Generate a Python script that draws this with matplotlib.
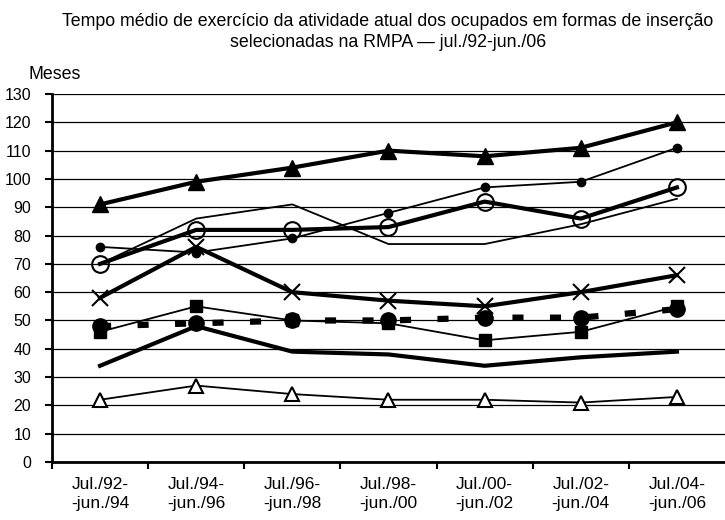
import matplotlib.pyplot as plt

plt.rcParams['font.family'] = ['Liberation Sans Narrow', 'Liberation Sans', 'DejaVu Sans']
plt.rcParams['lines.scale_dashes'] = False

periods = ["Jul./92-\n-jun./94", "Jul./94-\n-jun./96", "Jul./96-\n-jun./98",
           "Jul./98-\n-jun./00", "Jul./00-\n-jun./02", "Jul./02-\n-jun./04",
           "Jul./04-\n-jun./06"]

s_tri_fill = [91, 99, 104, 110, 108, 111, 120]
s_dot_small = [76, 74, 79, 88, 97, 99, 111]
s_thin_plain = [70, 86, 91, 77, 77, 84, 93]
s_circle_open = [70, 82, 82, 83, 92, 86, 97]
s_cross = [58, 76, 60, 57, 55, 60, 66]
s_square = [46, 55, 50, 49, 43, 46, 55]
s_dashed_dot = [48, 49, 50, 50, 51, 51, 54]
s_thick_plain = [34, 48, 39, 38, 34, 37, 39]
s_tri_open = [22, 27, 24, 22, 22, 21, 23]

x = list(range(len(periods)))

fig = plt.figure(figsize=(7.25, 5.2), dpi=100)
ax = fig.add_axes([0.0717, 0.1115, 0.9283, 0.7077])

ax.plot(x, s_thick_plain, color='black', lw=3)
ax.plot(x, s_tri_open, color='black', lw=1.3, marker='^', ms=10,
        mfc='white', mec='black', mew=1.5)
ax.plot(x, s_square, color='black', lw=1.3, marker='s', ms=9)
ax.plot(x, s_dashed_dot, color='black', lw=4.5, ls=(0, (8, 19)),
        marker='o', ms=11, dash_capstyle='butt')
ax.plot(x, s_cross, color='black', lw=3, marker='x', ms=11, mew=1.5)
ax.plot(x, s_thin_plain, color='black', lw=1.3)
ax.plot(x, s_circle_open, color='black', lw=3, marker='o', ms=12,
        mfc='none', mec='black', mew=1.5)
ax.plot(x, s_dot_small, color='black', lw=1.3, marker='o', ms=6)
ax.plot(x, s_tri_fill, color='black', lw=3, marker='^', ms=12)

ax.set_xlim(-0.5, 6.5)
ax.set_ylim(0, 130)
ax.set_yticks(range(0, 131, 10))
ax.set_xticks([i - 0.5 for i in range(7)])
ax.set_xticklabels([])
ax.set_xticks(x, minor=True)
ax.set_xticklabels(periods, minor=True, fontsize=12.5, linespacing=1.3,
                   family=['Liberation Sans', 'DejaVu Sans'])
ax.tick_params(axis='x', which='minor', length=0, pad=11)
ax.tick_params(axis='x', which='major', length=5, width=1.5, direction='out')
ax.tick_params(axis='y', length=5, width=1.5, direction='out', labelsize=11.5, pad=10)

ax.yaxis.grid(True, color='black', lw=0.9)
ax.set_axisbelow(True)
for side in ['top', 'right']:
    ax.spines[side].set_visible(False)
ax.spines['left'].set_linewidth(2)
ax.spines['bottom'].set_linewidth(2)

fig.text(0.535, 0.975, "Tempo médio de exercício da atividade atual dos ocupados em formas de inserção\n"
         "selecionadas na RMPA — jul./92-jun./06", ha='center', va='top',
         fontsize=12.8, linespacing=1.3)
fig.text(0.039, 0.848, "Meses", ha='left', va='baseline', fontsize=12.8)

fig.savefig("out.png", dpi=100)
